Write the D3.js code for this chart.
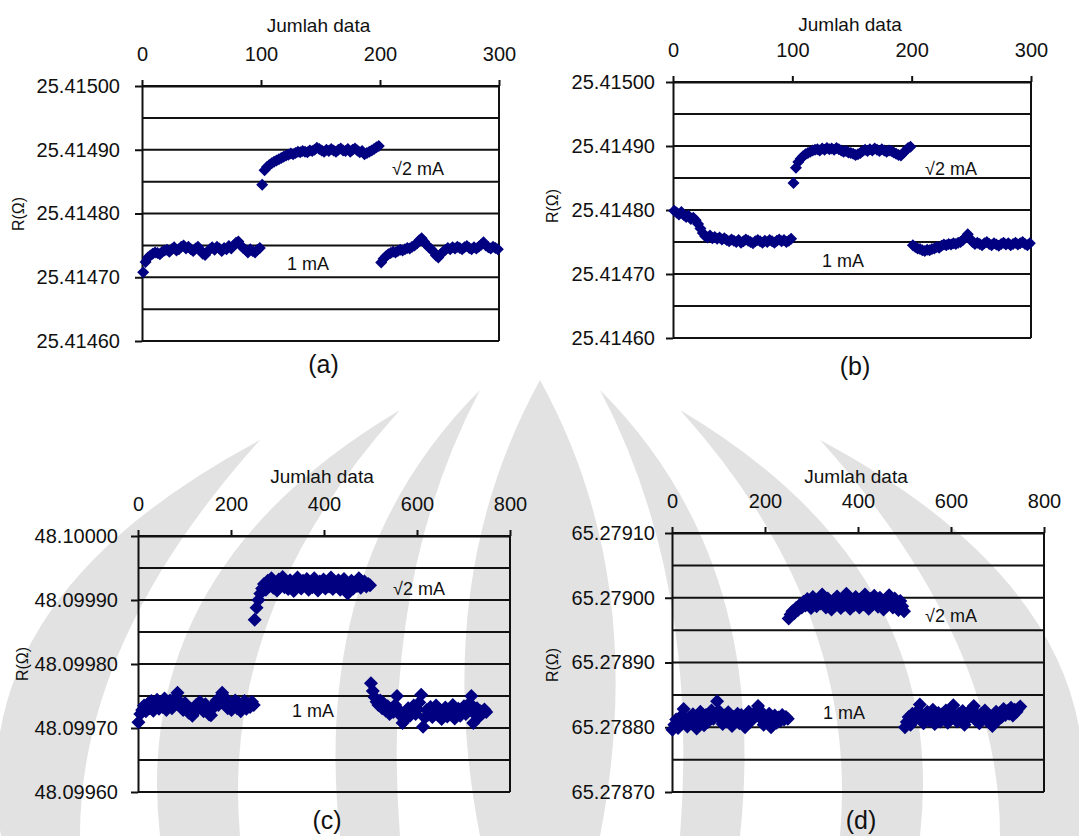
<!DOCTYPE html>
<html lang="en">
<head>
<meta charset="UTF-8">
<title>R vs Jumlah data</title>
<script src="https://d3js.org/d3.v7.min.js"></script>
<style>
  body { margin: 0; background: #fff; font-family: Arial, "Liberation Sans", sans-serif; }
  svg { display: block; }
  .axis text { font-size: 20px; fill: #111; font-family: Arial, "Liberation Sans", sans-serif; }
  .axis path, .axis line { stroke: #111; stroke-width: 2px; }
  .grid line { stroke: #111; stroke-width: 2px; }
  .frame { stroke: #111; stroke-width: 2px; }
  .x-title { font-size: 19px; fill: #111; text-anchor: middle; }
  .y-title { font-size: 16px; fill: #111; text-anchor: middle; }
  .tag { font-size: 25px; fill: #111; text-anchor: middle; }
  .note { font-size: 18px; fill: #111; }
  .pt { fill: #000080; }
  .wm { fill: #e2e2e2; }
</style>
</head>
<body>
<svg id="chart" width="1079" height="836"></svg>
<script>
// values are stored in micro-ohm above each panel's base value
const baseAB = 25.4146;
const baseC = 48.0996;
const baseD = 65.2787;

const xTicksAB = [0, 100, 200, 300];
const xTicksCD = [0, 200, 400, 600, 800];
const yTicksAB = [25.4146, 25.4147, 25.4148, 25.4149, 25.4150];
const yTicksC = [48.0996, 48.0997, 48.0998, 48.0999, 48.1000];
const yTicksD = [65.2787, 65.2788, 65.2789, 65.2790, 65.2791];

// (a) every 2nd reading
const a1mA = [108, 124, 131, 134, 137, 139, 138, 136, 140, 142,
  143, 140, 144, 147, 142, 144, 148, 150, 145, 148,
  144, 141, 145, 148, 143, 137, 135, 140, 144, 147,
  143, 148, 145, 141, 146, 144, 149, 145, 150, 154,
  156, 150, 146, 143, 139, 144, 141, 139, 143, 146];
const aSqrt2 = [245, 268, 273, 276, 279, 281, 283, 285, 287, 289,
  291, 292, 294, 293, 295, 297, 296, 298, 297, 296,
  299, 298, 300, 303, 301, 299, 297, 300, 298, 301,
  299, 297, 300, 302, 299, 298, 301, 297, 300, 302,
  299, 296, 298, 293, 295, 297, 299, 301, 304, 306];
const a1mAb = [123, 129, 133, 136, 138, 140, 139, 141, 143, 142,
  144, 146, 145, 148, 150, 153, 158, 161, 156, 151,
  147, 144, 140, 134, 131, 136, 140, 143, 146, 144,
  147, 145, 148, 146, 144, 147, 149, 146, 144, 147,
  145, 148, 151, 155, 150, 147, 145, 148, 146, 144];

// (b) every 2nd reading
const b1mA = [199, 196, 193, 197, 192, 189, 191, 186, 188, 184,
  178, 171, 164, 159, 157, 160, 156, 158, 155, 157,
  154, 156, 153, 151, 154, 152, 150, 153, 149, 151,
  154, 152, 150, 148, 151, 153, 151, 149, 152, 150,
  153, 151, 149, 152, 154, 151, 153, 150, 152, 155];
const bSqrt2 = [242, 266, 275, 280, 284, 287, 289, 291, 293, 294,
  295, 293, 296, 294, 297, 295, 296, 294, 297, 295,
  293, 291, 292, 290, 289, 288, 286, 287, 289, 292,
  294, 292, 295, 293, 296, 294, 292, 295, 293, 291,
  293, 292, 290, 288, 286, 285, 289, 293, 297, 299];
const b1mAb = [145, 142, 140, 139, 137, 136, 138, 137, 139, 140,
  142, 141, 144, 146, 145, 147, 146, 148, 147, 149,
  150, 153, 157, 162, 155, 150, 147, 149, 147, 145,
  148, 150, 147, 145, 148, 146, 144, 147, 149, 146,
  148, 145, 147, 149, 146, 148, 150, 147, 145, 148];

// (c) every 4th reading
const c1mA = [109, 122, 128, 135, 126, 138, 131, 142, 127, 136,
  144, 130, 139, 133, 146, 128, 137, 143, 131, 140,
  148, 155, 141, 134, 128, 139, 132, 124, 130, 119,
  127, 136, 130, 141, 134, 126, 137, 129, 121, 120,
  131, 138, 143, 136, 147, 155, 149, 138, 131, 140,
  128, 136, 143, 131, 139, 126, 135, 142, 130, 138,
  133, 141, 136];
const cSqrt2 = [269, 288, 300, 310, 318, 325, 316, 330, 322, 334,
  319, 327, 315, 332, 324, 336, 320, 328, 317, 331,
  325, 314, 329, 335, 321, 318, 330, 324, 333, 316,
  326, 320, 334, 323, 315, 329, 325, 332, 318, 327,
  321, 335, 317, 328, 324, 331, 316, 326, 333, 320,
  310, 324, 330, 318, 327, 322, 334, 319, 326, 329,
  321, 325, 323];
const c1mAb = [170, 158, 148, 141, 136, 143, 131, 138, 127, 134,
  122, 130, 125, 136, 150, 128, 119, 108, 112, 124,
  131, 119, 127, 135, 122, 129, 140, 152, 102, 116,
  128, 121, 133, 117, 126, 135, 120, 129, 114, 124,
  132, 118, 127, 121, 136, 115, 125, 130, 119, 128,
  134, 122, 127, 139, 150, 108, 121, 131, 117, 126,
  123, 129, 125];

// (d) every 4th reading
const d1mA = [96, 104, 112, 99, 108, 118, 128, 110, 101, 115,
  106, 120, 109, 98, 114, 124, 111, 103, 119, 108,
  117, 126, 113, 121, 140, 125, 112, 105, 118, 109,
  123, 114, 102, 116, 110, 121, 106, 119, 113, 100,
  117, 124, 109, 115, 122, 118, 133, 126, 112, 104,
  116, 109, 121, 100, 113, 118, 107, 115, 110, 119,
  112, 116, 113];
const dSqrt2 = [268, 274, 279, 276, 284, 281, 289, 285, 294, 288,
  298, 290, 284, 301, 293, 287, 297, 291, 305, 294,
  285, 299, 290, 282, 296, 288, 302, 292, 284, 298,
  289, 306, 293, 283, 297, 288, 301, 291, 285, 299,
  290, 305, 294, 283, 298, 289, 303, 292, 286, 300,
  291, 282, 297, 288, 304, 293, 285, 299, 290, 281,
  295, 287, 279];
const d1mAb = [100, 108, 116, 104, 121, 112, 118, 126, 135, 113,
  106, 119, 124, 110, 117, 127, 105, 115, 122, 109,
  120, 113, 126, 107, 118, 124, 134, 116, 109, 121,
  112, 125, 104, 119, 114, 123, 129, 133, 111, 118,
  106, 121, 115, 126, 110, 119, 113, 102, 117, 124,
  111, 122, 116, 128, 119, 125, 121, 130, 118, 127,
  124, 129, 132];

const panels = [
  { tag: "(a)", base: baseAB, segs: [a1mA, aSqrt2, a1mAb], starts: [1, 101, 201], step: 2,
    xTicks: xTicksAB, yTicks: yTicksAB, l: 142, r: 499, t: 86, b: 341, labX: 120,
    titleY: 32, tagY: 373, rPos: [24, 214], sqrtPos: [392, 175], onePos: [287, 270], size: 6 },
  { tag: "(b)", base: baseAB, segs: [b1mA, bSqrt2, b1mAb], starts: [1, 101, 201], step: 2,
    xTicks: xTicksAB, yTicks: yTicksAB, l: 673, r: 1031, t: 82, b: 338, labX: 655,
    titleY: 31, tagY: 375, rPos: [558, 206], sqrtPos: [925, 175], onePos: [822, 267], size: 6 },
  { tag: "(c)", base: baseC, segs: [c1mA, cSqrt2, c1mAb], starts: [1, 251, 501], step: 4,
    xTicks: xTicksCD, yTicks: yTicksC, l: 138, r: 510, t: 536, b: 792, labX: 118,
    titleY: 483, tagY: 829, rPos: [28, 664], sqrtPos: [393, 595], onePos: [292, 717], size: 7 },
  { tag: "(d)", base: baseD, segs: [d1mA, dSqrt2, d1mAb], starts: [1, 251, 501], step: 4,
    xTicks: xTicksCD, yTicks: yTicksD, l: 672, r: 1044, t: 533, b: 792, labX: 655,
    titleY: 483, tagY: 829, rPos: [558, 665], sqrtPos: [925, 622], onePos: [823, 719], size: 7 }
];

const svg = d3.select("#chart");

// faint background watermark (decoration only)
const wm = svg.append("g").attr("class", "wm");
wm.append("path").attr("d", "M540,380 Q650,580 600,836 L480,836 Q430,580 540,380 Z");
[1, -1].forEach(s => {
  const mx = v => 540 + s * (v - 540);
  wm.append("path").attr("d",
    `M${mx(600)},390 Q${mx(770)},560 ${mx(740)},836 L${mx(680)},836 Q${mx(700)},580 ${mx(600)},390 Z`);
  wm.append("path").attr("d",
    `M${mx(680)},410 Q${mx(950)},570 ${mx(920)},836 L${mx(840)},836 Q${mx(860)},610 ${mx(680)},410 Z`);
  wm.append("path").attr("d",
    `M${mx(820)},440 Q${mx(1120)},600 ${mx(1079)},836 L${mx(1000)},836 Q${mx(1000)},640 ${mx(820)},440 Z`);
});

panels.forEach(p => {
  const g = svg.append("g");
  const x = d3.scaleLinear().domain([0, p.xTicks[p.xTicks.length - 1]]).range([p.l, p.r]);
  const y = d3.scaleLinear().domain([p.yTicks[0], p.yTicks[p.yTicks.length - 1]]).range([p.b, p.t]);
  const half = (p.yTicks[1] - p.yTicks[0]) / 2;
  const gridVals = d3.range(2 * (p.yTicks.length - 1) + 1).map(i => p.yTicks[0] + i * half);

  g.append("g").attr("class", "grid")
    .selectAll("line").data(gridVals).join("line")
    .attr("x1", p.l).attr("x2", p.r)
    .attr("y1", d => y(d)).attr("y2", d => y(d));

  g.append("line").attr("class", "frame")
    .attr("x1", p.r).attr("x2", p.r).attr("y1", p.t).attr("y2", p.b);

  g.append("g").attr("class", "axis")
    .attr("transform", `translate(0,${p.t})`)
    .call(d3.axisTop(x).tickValues(p.xTicks).tickSizeInner(6).tickSizeOuter(0)
      .tickPadding(19).tickFormat(d3.format("d")));

  g.append("g").attr("class", "axis")
    .attr("transform", `translate(${p.l},0)`)
    .call(d3.axisLeft(y).tickValues(p.yTicks).tickSizeInner(7).tickSizeOuter(0)
      .tickPadding(p.l - p.labX - 7).tickFormat(d3.format(".5f")));

  g.append("text").attr("class", "x-title")
    .attr("x", (p.l + p.r) / 2 - 2).attr("y", p.titleY).text("Jumlah data");

  g.append("text").attr("class", "y-title")
    .attr("transform", `translate(${p.rPos[0]},${p.rPos[1]}) rotate(-90)`)
    .text("R(Ω)");

  g.append("text").attr("class", "tag")
    .attr("x", (p.l + p.r) / 2 + 3).attr("y", p.tagY).text(p.tag);

  const pts = p.segs.flatMap((seg, k) =>
    seg.map((v, i) => ({ n: p.starts[k] + i * p.step, r: p.base + v * 1e-6 })));

  const s = p.size;
  g.append("g").selectAll("path").data(pts).join("path")
    .attr("class", "pt")
    .attr("d", `M0,${-s}L${s},0L0,${s}L${-s},0Z`)
    .attr("transform", d => `translate(${x(d.n)},${y(d.r)})`);

  g.append("text").attr("class", "note")
    .attr("x", p.sqrtPos[0]).attr("y", p.sqrtPos[1]).text("√2 mA");
  g.append("text").attr("class", "note")
    .attr("x", p.onePos[0]).attr("y", p.onePos[1]).text("1 mA");
});
</script>
</body>
</html>
